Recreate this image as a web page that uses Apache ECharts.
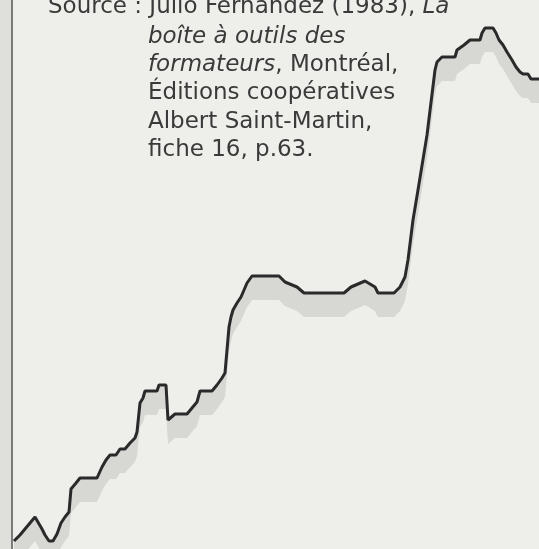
<!DOCTYPE html>
<html>
<head>
<meta charset="utf-8">
<script src="https://cdn.jsdelivr.net/npm/echarts@6/dist/echarts.min.js"></script>
<style>
  html, body { margin: 0; padding: 0; background: #dfdfdc; }
  #chart { width: 539px; height: 549px; }
</style>
</head>
<body>
<div id="chart"></div>
<script>
// courbe d'apprentissage : temps (abscisse) et niveau (ordonnée)
const temps = [2, 8, 13, 18, 23, 30, 33, 37, 41, 45, 49, 53, 57, 59, 64, 68, 85, 90, 94, 98,
	104, 108, 113, 118, 123, 125, 128, 131, 133, 145, 147, 154, 156, 163, 175, 180, 185, 188, 200, 205,
	210, 213, 217, 219, 221, 225, 229, 232, 235, 240, 267, 273, 285, 292, 332, 339, 353, 363, 366, 382,
	388, 393, 396, 401, 406, 415, 423, 425, 430, 443, 445, 452, 458, 468, 470, 473, 481, 484, 487, 491,
	495, 500, 504, 508, 511, 516, 519, 527];
const niveau = [8, 14, 20, 26, 32, 20, 14, 8, 8, 15, 26, 32, 37, 60, 66, 71, 71, 82, 89, 94,
	94, 100, 100, 106, 111, 117, 146, 151, 158, 158, 164, 164, 129, 135, 135, 141, 147, 158, 158, 164,
	171, 176, 222, 232, 239, 246, 252, 259, 266, 273, 273, 267, 262, 256, 256, 262, 268, 262, 256, 256,
	262, 272, 289, 329, 359, 414, 479, 487, 492, 492, 499, 504, 509, 509, 516, 521, 521, 516, 509, 504,
	497, 489, 482, 477, 475, 475, 470, 470];

const sourceLines = [
	"Source : Julio Fernández (1983), {i|La}",
	"{i|boîte à outils des}",
	"{i|formateurs}, Montréal,",
	"Éditions coopératives",
	"Albert Saint-Martin,",
	"fiche 16, p.63."
];

const BG = "#eeeeeb";
const SHADOW = "#d7d7d4";
const DEPTH = 24;
const FONT = 23;

const courbe = temps.map((t, i) => [t, niveau[i]]);
const ombre = temps.map((t, i) => [t, niveau[i] - DEPTH]);

const textEls = sourceLines.map((line, i) => ({
	type: "text",
	x: i === 0 ? 48 : 148,
	y: [7, 37, 65, 93, 122, 150][i],
	z: 10,
	style: {
		text: line,
		fill: "#3a3a3a",
		fontFamily: "DejaVu Sans",
		fontSize: FONT,
		verticalAlign: "middle",
		rich: {
			i: { fontStyle: "italic", fontFamily: "DejaVu Sans", fontSize: FONT, fill: "#3a3a3a" }
		}
	}
}));

const chart = echarts.init(document.getElementById("chart"));
chart.setOption({
	backgroundColor: "#dfdfdc",
	animation: false,
	grid: {
		left: 12, right: 0, top: 0, bottom: 0,
		show: true, backgroundColor: BG, borderWidth: 0
	},
	xAxis: {
		type: "value", min: 0, max: 527,
		axisLine: { show: false }, axisTick: { show: false },
		axisLabel: { show: false }, splitLine: { show: false }
	},
	yAxis: {
		type: "value", min: 0, max: 549,
		axisLine: { show: true, lineStyle: { color: "#7a7a7a", width: 2 } },
		axisTick: { show: false }, axisLabel: { show: false }, splitLine: { show: false }
	},
	series: [
		{
			type: "line", data: courbe, symbol: "none", z: 1,
			lineStyle: { width: 0 },
			areaStyle: { color: SHADOW, opacity: 1 }
		},
		{
			type: "line", data: ombre, symbol: "none", z: 2,
			lineStyle: { width: 0 },
			areaStyle: { color: BG, opacity: 1 }
		},
		{
			type: "line", data: courbe, symbol: "none", z: 3,
			lineStyle: { color: "#2a2a2a", width: 3 }
		}
	],
	graphic: textEls
});
</script>
</body>
</html>
